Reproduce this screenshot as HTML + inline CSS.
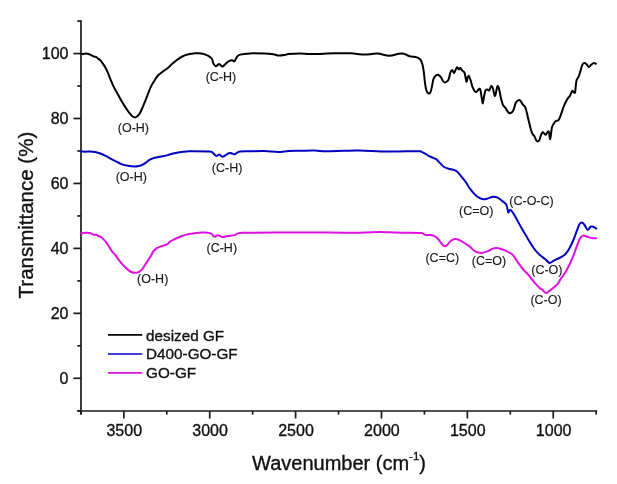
<!DOCTYPE html>
<html><head><meta charset="utf-8"><style>
html,body{margin:0;padding:0;background:#fff;}
body{width:617px;height:484px;overflow:hidden;position:relative;}
svg{position:absolute;left:0;top:0;will-change:transform;filter:blur(0.3px);}
text{-webkit-font-smoothing:antialiased;}
text{font-family:"Liberation Sans",sans-serif;}
</style></head><body>
<svg width="617" height="484" viewBox="0 0 617 484">
<rect width="617" height="484" fill="#fff"/>
<g stroke="#1a1a1a" stroke-width="1.7" fill="none" stroke-linecap="butt">
<line x1="81" y1="20.2" x2="81" y2="414.6"/>
<line x1="77.3" y1="411" x2="597.2" y2="411"/>
<line x1="77.3" y1="410.77" x2="81" y2="410.77"/><line x1="73.4" y1="378.30" x2="81" y2="378.30"/><line x1="77.3" y1="345.83" x2="81" y2="345.83"/><line x1="73.4" y1="313.35" x2="81" y2="313.35"/><line x1="77.3" y1="280.88" x2="81" y2="280.88"/><line x1="73.4" y1="248.40" x2="81" y2="248.40"/><line x1="77.3" y1="215.93" x2="81" y2="215.93"/><line x1="73.4" y1="183.46" x2="81" y2="183.46"/><line x1="77.3" y1="150.98" x2="81" y2="150.98"/><line x1="73.4" y1="118.51" x2="81" y2="118.51"/><line x1="77.3" y1="86.03" x2="81" y2="86.03"/><line x1="73.4" y1="53.56" x2="81" y2="53.56"/><line x1="77.3" y1="21.09" x2="81" y2="21.09"/><line x1="596.18" y1="411" x2="596.18" y2="414.6"/><line x1="553.24" y1="411" x2="553.24" y2="418.5"/><line x1="510.30" y1="411" x2="510.30" y2="414.6"/><line x1="467.36" y1="411" x2="467.36" y2="418.5"/><line x1="424.42" y1="411" x2="424.42" y2="414.6"/><line x1="381.48" y1="411" x2="381.48" y2="418.5"/><line x1="338.54" y1="411" x2="338.54" y2="414.6"/><line x1="295.60" y1="411" x2="295.60" y2="418.5"/><line x1="252.66" y1="411" x2="252.66" y2="414.6"/><line x1="209.72" y1="411" x2="209.72" y2="418.5"/><line x1="166.78" y1="411" x2="166.78" y2="414.6"/><line x1="123.84" y1="411" x2="123.84" y2="418.5"/><line x1="80.90" y1="411" x2="80.90" y2="414.6"/>
</g>
<g font-size="16" fill="#111" stroke="#111" stroke-width="0.35">
<text x="68.5" y="59.16" text-anchor="end">100</text><text x="68.5" y="124.11" text-anchor="end">80</text><text x="68.5" y="189.06" text-anchor="end">60</text><text x="68.5" y="254.00" text-anchor="end">40</text><text x="68.5" y="318.95" text-anchor="end">20</text><text x="68.5" y="383.90" text-anchor="end">0</text>
<text x="124.24" y="436.3" text-anchor="middle">3500</text><text x="210.12" y="436.3" text-anchor="middle">3000</text><text x="296.00" y="436.3" text-anchor="middle">2500</text><text x="381.88" y="436.3" text-anchor="middle">2000</text><text x="467.76" y="436.3" text-anchor="middle">1500</text><text x="553.64" y="436.3" text-anchor="middle">1000</text>
</g>
<g fill="none" stroke-width="2" stroke-linejoin="round" stroke-linecap="round">
<path stroke="#000" d="M81.20,53.70 C81.55,53.77 82.53,54.12 83.30,54.10 C84.07,54.08 84.82,53.58 85.80,53.60 C86.78,53.62 88.23,53.92 89.20,54.20 C90.17,54.48 90.80,54.92 91.60,55.30 C92.40,55.68 93.27,56.23 94.00,56.50 C94.73,56.77 95.27,56.50 96.00,56.90 C96.73,57.30 97.67,58.32 98.40,58.90 C99.13,59.48 99.67,59.62 100.40,60.40 C101.13,61.18 102.00,62.47 102.80,63.60 C103.60,64.73 104.42,65.82 105.20,67.20 C105.98,68.58 106.60,69.82 107.50,71.90 C108.40,73.98 109.53,77.17 110.60,79.70 C111.67,82.23 112.67,84.62 113.90,87.10 C115.13,89.58 116.63,92.12 118.00,94.60 C119.37,97.08 120.72,99.67 122.10,102.00 C123.48,104.33 124.95,106.60 126.30,108.60 C127.65,110.60 129.17,112.70 130.20,114.00 C131.23,115.30 131.62,115.83 132.50,116.40 C133.38,116.97 134.40,117.73 135.50,117.40 C136.60,117.07 137.95,116.00 139.10,114.40 C140.25,112.80 141.17,110.55 142.40,107.80 C143.63,105.05 145.12,101.35 146.50,97.90 C147.88,94.45 149.25,90.17 150.70,87.10 C152.15,84.03 153.92,81.52 155.20,79.50 C156.48,77.48 157.10,76.35 158.40,75.00 C159.70,73.65 161.27,72.70 163.00,71.40 C164.73,70.10 167.30,68.45 168.80,67.20 C170.30,65.95 170.60,65.15 172.00,63.90 C173.40,62.65 175.47,60.93 177.20,59.70 C178.93,58.47 180.88,57.30 182.40,56.50 C183.92,55.70 185.03,55.32 186.30,54.90 C187.57,54.48 188.78,54.25 190.00,54.00 C191.22,53.75 191.67,53.50 193.60,53.40 C195.53,53.30 199.13,52.98 201.60,53.40 C204.07,53.82 206.70,55.00 208.40,55.90 C210.10,56.80 210.95,57.53 211.80,58.80 C212.65,60.07 212.83,62.25 213.50,63.50 C214.17,64.75 214.85,66.22 215.80,66.30 C216.75,66.38 218.12,63.95 219.20,64.00 C220.28,64.05 221.25,66.62 222.30,66.60 C223.35,66.58 224.47,64.77 225.50,63.90 C226.53,63.03 227.38,62.00 228.50,61.40 C229.62,60.80 231.20,60.33 232.20,60.30 C233.20,60.27 233.73,61.73 234.50,61.20 C235.27,60.67 235.85,58.20 236.80,57.10 C237.75,56.00 238.00,55.22 240.20,54.60 C242.40,53.98 245.98,53.57 250.00,53.40 C254.02,53.23 260.45,53.45 264.30,53.60 C268.15,53.75 270.67,53.97 273.10,54.30 C275.53,54.63 276.97,55.48 278.90,55.60 C280.83,55.72 283.08,55.27 284.70,55.00 C286.32,54.73 286.05,54.25 288.60,54.00 C291.15,53.75 296.15,53.50 300.00,53.50 C303.85,53.50 306.03,54.03 311.70,54.00 C317.37,53.97 327.52,53.42 334.00,53.30 C340.48,53.18 346.27,53.13 350.60,53.30 C354.93,53.47 357.47,54.08 360.00,54.30 C362.53,54.52 362.88,54.72 365.80,54.60 C368.72,54.48 373.60,53.40 377.50,53.60 C381.40,53.80 385.63,55.77 389.20,55.80 C392.77,55.83 396.47,54.13 398.90,53.80 C401.33,53.47 402.02,53.40 403.80,53.80 C405.58,54.20 407.67,55.68 409.60,56.20 C411.53,56.72 413.98,56.62 415.40,56.90 C416.82,57.18 417.23,57.40 418.10,57.90 C418.97,58.40 419.88,58.83 420.60,59.90 C421.32,60.97 421.88,62.43 422.40,64.30 C422.92,66.17 423.28,68.12 423.70,71.10 C424.12,74.08 424.48,79.10 424.90,82.20 C425.32,85.30 425.62,87.83 426.20,89.70 C426.78,91.57 427.68,93.00 428.40,93.40 C429.12,93.80 429.88,93.35 430.50,92.10 C431.12,90.85 431.58,88.17 432.10,85.90 C432.62,83.63 432.93,80.25 433.60,78.50 C434.27,76.75 435.38,76.02 436.10,75.40 C436.82,74.78 437.08,74.48 437.90,74.80 C438.72,75.12 440.17,76.27 441.00,77.30 C441.83,78.33 442.28,80.13 442.90,81.00 C443.52,81.87 444.08,82.40 444.70,82.50 C445.32,82.60 445.97,82.07 446.60,81.60 C447.23,81.13 447.88,81.15 448.50,79.70 C449.12,78.25 449.68,74.50 450.30,72.90 C450.92,71.30 451.58,70.10 452.20,70.10 C452.82,70.10 453.48,72.85 454.00,72.90 C454.52,72.95 454.78,71.33 455.30,70.40 C455.82,69.47 456.48,67.43 457.10,67.30 C457.72,67.17 458.48,69.53 459.00,69.60 C459.52,69.67 459.68,67.57 460.20,67.70 C460.72,67.83 461.37,69.53 462.10,70.40 C462.83,71.27 463.88,71.03 464.60,72.90 C465.32,74.77 465.88,80.83 466.40,81.60 C466.92,82.37 467.28,78.43 467.70,77.50 C468.12,76.57 468.38,75.42 468.90,76.00 C469.42,76.58 470.18,79.13 470.80,81.00 C471.42,82.87 471.90,85.43 472.60,87.20 C473.30,88.97 474.30,90.87 475.00,91.60 C475.70,92.33 476.08,92.08 476.80,91.60 C477.52,91.12 478.68,88.90 479.30,88.70 C479.92,88.50 480.08,88.78 480.50,90.40 C480.92,92.02 481.42,96.23 481.80,98.40 C482.18,100.57 482.45,103.60 482.80,103.40 C483.15,103.20 483.45,99.37 483.90,97.20 C484.35,95.03 484.93,91.68 485.50,90.40 C486.07,89.12 486.68,89.50 487.30,89.50 C487.92,89.50 488.53,90.98 489.20,90.40 C489.87,89.82 490.68,86.32 491.30,86.00 C491.92,85.68 492.32,86.85 492.90,88.50 C493.48,90.15 494.23,95.48 494.80,95.90 C495.37,96.32 495.85,92.65 496.30,91.00 C496.75,89.35 497.03,86.32 497.50,86.00 C497.97,85.68 498.52,87.03 499.10,89.10 C499.68,91.17 500.38,95.82 501.00,98.40 C501.62,100.98 502.08,103.05 502.80,104.60 C503.52,106.15 504.57,106.67 505.30,107.70 C506.03,108.73 506.58,109.92 507.20,110.80 C507.82,111.68 508.28,112.68 509.00,113.00 C509.72,113.32 510.77,113.17 511.50,112.70 C512.23,112.23 512.68,111.85 513.40,110.20 C514.12,108.55 514.98,104.45 515.80,102.80 C516.62,101.15 517.57,100.67 518.30,100.30 C519.03,99.93 519.47,99.92 520.20,100.60 C520.93,101.28 521.88,103.32 522.70,104.40 C523.52,105.48 524.48,106.00 525.10,107.10 C525.72,108.20 525.93,109.28 526.40,111.00 C526.87,112.72 527.38,115.23 527.90,117.40 C528.42,119.57 528.95,121.78 529.50,124.00 C530.05,126.22 530.63,128.97 531.20,130.70 C531.77,132.43 532.35,133.45 532.90,134.40 C533.45,135.35 533.95,135.43 534.50,136.40 C535.05,137.37 535.65,139.37 536.20,140.20 C536.75,141.03 537.25,141.47 537.80,141.40 C538.35,141.33 538.95,140.90 539.50,139.80 C540.05,138.70 540.55,136.05 541.10,134.80 C541.65,133.55 542.25,132.50 542.80,132.30 C543.35,132.10 543.92,133.18 544.40,133.60 C544.88,134.02 545.22,135.02 545.70,134.80 C546.18,134.58 546.82,132.85 547.30,132.30 C547.78,131.75 548.25,131.08 548.60,131.50 C548.95,131.92 549.13,133.50 549.40,134.80 C549.67,136.10 549.93,139.43 550.20,139.30 C550.47,139.17 550.72,135.98 551.00,134.00 C551.28,132.02 551.48,129.07 551.90,127.40 C552.32,125.73 552.88,125.03 553.50,124.00 C554.12,122.97 554.92,121.75 555.60,121.20 C556.28,120.65 557.05,120.98 557.60,120.70 C558.15,120.42 558.42,120.32 558.90,119.50 C559.38,118.68 559.60,118.18 560.50,115.80 C561.40,113.42 563.15,108.00 564.30,105.20 C565.45,102.40 566.47,100.55 567.40,99.00 C568.33,97.45 569.07,97.25 569.90,95.90 C570.73,94.55 571.57,91.42 572.40,90.90 C573.23,90.38 574.32,93.83 574.90,92.80 C575.48,91.77 575.60,86.87 575.90,84.70 C576.20,82.53 576.25,81.13 576.70,79.80 C577.15,78.47 577.98,78.15 578.60,76.70 C579.22,75.25 579.78,73.07 580.40,71.10 C581.02,69.13 581.67,66.23 582.30,64.90 C582.93,63.57 583.48,63.20 584.20,63.10 C584.92,63.00 585.85,63.65 586.60,64.30 C587.35,64.95 587.97,66.90 588.70,67.00 C589.43,67.10 590.20,65.55 591.00,64.90 C591.80,64.25 592.68,63.30 593.50,63.10 C594.32,62.90 595.50,63.60 595.90,63.70"/>
<path stroke="#0000c0" d="M81.20,151.50 C81.97,151.53 84.38,151.70 85.80,151.70 C87.22,151.70 88.17,151.45 89.70,151.50 C91.23,151.55 93.47,151.75 95.00,152.00 C96.53,152.25 97.28,152.45 98.90,153.00 C100.52,153.55 102.75,154.35 104.70,155.30 C106.65,156.25 108.65,157.65 110.60,158.70 C112.55,159.75 114.47,160.65 116.40,161.60 C118.33,162.55 120.25,163.70 122.20,164.40 C124.15,165.10 126.15,165.45 128.10,165.80 C130.05,166.15 132.12,166.47 133.90,166.50 C135.68,166.53 137.33,166.32 138.80,166.00 C140.27,165.68 141.58,165.12 142.70,164.60 C143.82,164.08 144.30,163.72 145.50,162.90 C146.70,162.08 148.37,160.57 149.90,159.70 C151.43,158.83 152.82,158.23 154.70,157.70 C156.58,157.17 159.03,156.93 161.20,156.50 C163.37,156.07 165.67,155.60 167.70,155.10 C169.73,154.60 171.38,153.98 173.40,153.50 C175.42,153.02 177.52,152.55 179.80,152.20 C182.08,151.85 185.17,151.55 187.10,151.40 C189.03,151.25 187.67,151.27 191.40,151.30 C195.13,151.33 205.85,151.27 209.50,151.60 C213.15,151.93 212.17,152.55 213.30,153.30 C214.43,154.05 215.32,155.90 216.30,156.10 C217.28,156.30 218.15,154.40 219.20,154.50 C220.25,154.60 221.00,156.90 222.60,156.70 C224.20,156.50 227.20,153.83 228.80,153.30 C230.40,152.77 231.17,153.33 232.20,153.50 C233.23,153.67 233.87,154.60 235.00,154.30 C236.13,154.00 236.50,152.20 239.00,151.70 C241.50,151.20 245.78,151.42 250.00,151.30 C254.22,151.18 259.65,150.88 264.30,151.00 C268.95,151.12 273.85,152.00 277.90,152.00 C281.95,152.00 284.92,151.20 288.60,151.00 C292.28,150.80 295.67,150.87 300.00,150.80 C304.33,150.73 310.22,150.52 314.60,150.60 C318.98,150.68 321.43,151.27 326.30,151.30 C331.17,151.33 338.18,150.92 343.80,150.80 C349.42,150.68 352.60,150.47 360.00,150.60 C367.40,150.73 378.62,151.50 388.20,151.60 C397.78,151.70 411.95,151.15 417.50,151.20 C423.05,151.25 420.05,151.37 421.50,151.90 C422.95,152.43 424.60,153.55 426.20,154.40 C427.80,155.25 429.45,156.20 431.10,157.00 C432.75,157.80 434.65,158.22 436.10,159.20 C437.55,160.18 438.47,161.60 439.80,162.90 C441.13,164.20 442.65,166.03 444.10,167.00 C445.55,167.97 446.95,168.25 448.50,168.70 C450.05,169.15 451.97,169.22 453.40,169.70 C454.83,170.18 455.87,170.57 457.10,171.60 C458.33,172.63 459.35,174.15 460.80,175.90 C462.25,177.65 464.25,179.93 465.80,182.10 C467.35,184.27 468.57,186.82 470.10,188.90 C471.63,190.98 473.53,193.13 475.00,194.60 C476.47,196.07 477.50,196.92 478.90,197.70 C480.30,198.48 481.88,199.18 483.40,199.30 C484.92,199.42 486.38,198.83 488.00,198.40 C489.62,197.97 491.48,196.82 493.10,196.70 C494.72,196.58 496.18,196.98 497.70,197.70 C499.22,198.42 500.80,199.92 502.20,201.00 C503.60,202.08 505.23,202.92 506.10,204.20 C506.97,205.48 507.02,207.30 507.40,208.70 C507.78,210.10 507.92,212.43 508.40,212.60 C508.88,212.77 509.48,209.58 510.30,209.70 C511.12,209.82 512.25,211.75 513.30,213.30 C514.35,214.85 515.23,216.53 516.60,219.00 C517.97,221.47 519.97,225.40 521.50,228.10 C523.03,230.80 524.55,233.10 525.80,235.20 C527.05,237.30 527.78,238.70 529.00,240.70 C530.22,242.70 531.73,245.25 533.10,247.20 C534.47,249.15 535.85,250.92 537.20,252.40 C538.55,253.88 539.85,254.95 541.20,256.10 C542.55,257.25 543.92,258.17 545.30,259.30 C546.68,260.43 548.15,262.63 549.50,262.90 C550.85,263.17 552.08,261.57 553.40,260.90 C554.72,260.23 556.05,259.57 557.40,258.90 C558.75,258.23 560.15,257.72 561.50,256.90 C562.85,256.08 564.22,255.35 565.50,254.00 C566.78,252.65 567.85,251.22 569.20,248.80 C570.55,246.38 572.30,242.57 573.60,239.50 C574.90,236.43 576.02,232.93 577.00,230.40 C577.98,227.87 578.67,225.63 579.50,224.30 C580.33,222.97 581.17,222.30 582.00,222.40 C582.83,222.50 583.57,223.67 584.50,224.90 C585.43,226.13 586.57,229.50 587.60,229.80 C588.63,230.10 589.77,227.22 590.70,226.70 C591.63,226.18 592.27,226.38 593.20,226.70 C594.13,227.02 595.78,228.28 596.30,228.60"/>
<path stroke="#e010e0" d="M81.20,233.30 C81.88,233.20 83.88,232.77 85.30,232.70 C86.72,232.63 88.57,232.72 89.70,232.90 C90.83,233.08 91.30,233.45 92.10,233.80 C92.90,234.15 93.85,234.87 94.50,235.00 C95.15,235.13 95.35,234.43 96.00,234.60 C96.65,234.77 97.67,235.67 98.40,236.00 C99.13,236.33 99.58,236.08 100.40,236.60 C101.22,237.12 102.42,238.25 103.30,239.10 C104.18,239.95 104.88,240.65 105.70,241.70 C106.52,242.75 107.12,243.75 108.20,245.40 C109.28,247.05 111.07,250.07 112.20,251.60 C113.33,253.13 114.00,253.35 115.00,254.60 C116.00,255.85 117.12,257.65 118.20,259.10 C119.28,260.55 120.42,262.02 121.50,263.30 C122.58,264.58 123.62,265.72 124.70,266.80 C125.78,267.88 126.92,268.93 128.00,269.80 C129.08,270.67 130.02,271.50 131.20,272.00 C132.38,272.50 133.80,272.83 135.10,272.80 C136.40,272.77 137.82,272.42 139.00,271.80 C140.18,271.18 141.23,270.20 142.20,269.10 C143.17,268.00 143.82,266.68 144.80,265.20 C145.78,263.72 147.10,261.70 148.10,260.20 C149.10,258.70 149.95,257.62 150.80,256.20 C151.65,254.78 152.25,253.00 153.20,251.70 C154.15,250.40 155.30,249.25 156.50,248.40 C157.70,247.55 159.10,247.12 160.40,246.60 C161.70,246.08 163.12,245.73 164.30,245.30 C165.48,244.87 166.43,244.68 167.50,244.00 C168.57,243.32 169.30,242.12 170.70,241.20 C172.10,240.28 174.17,239.33 175.90,238.50 C177.63,237.67 179.37,236.85 181.10,236.20 C182.83,235.55 184.58,235.00 186.30,234.60 C188.02,234.20 188.67,234.13 191.40,233.80 C194.13,233.47 199.68,232.73 202.70,232.60 C205.72,232.47 207.92,232.68 209.50,233.00 C211.08,233.32 211.35,233.87 212.20,234.50 C213.05,235.13 213.63,236.67 214.60,236.80 C215.57,236.93 216.67,235.25 218.00,235.30 C219.33,235.35 220.98,236.98 222.60,237.10 C224.22,237.22 225.72,236.33 227.70,236.00 C229.68,235.67 232.80,235.53 234.50,235.10 C236.20,234.67 236.38,233.78 237.90,233.40 C239.42,233.02 241.58,232.92 243.60,232.80 C245.62,232.68 242.27,232.75 250.00,232.70 C257.73,232.65 276.67,232.53 290.00,232.50 C303.33,232.47 320.20,232.45 330.00,232.50 C339.80,232.55 342.97,232.80 348.80,232.80 C354.63,232.80 359.85,232.65 365.00,232.50 C370.15,232.35 374.53,231.90 379.70,231.90 C384.87,231.90 391.78,232.37 396.00,232.50 C400.22,232.63 400.80,232.62 405.00,232.70 C409.20,232.78 418.07,232.77 421.20,233.00 C424.33,233.23 423.03,233.77 423.80,234.10 C424.57,234.43 424.60,234.83 425.80,235.00 C427.00,235.17 429.48,234.87 431.00,235.10 C432.52,235.33 433.72,235.75 434.90,236.40 C436.08,237.05 437.02,237.82 438.10,239.00 C439.18,240.18 440.32,242.28 441.40,243.50 C442.48,244.72 443.58,246.10 444.60,246.30 C445.62,246.50 446.45,245.63 447.50,244.70 C448.55,243.77 449.58,241.63 450.90,240.70 C452.22,239.77 453.90,239.15 455.40,239.10 C456.90,239.05 458.20,239.62 459.90,240.40 C461.60,241.18 463.92,242.73 465.60,243.80 C467.28,244.87 468.43,245.53 470.00,246.80 C471.57,248.07 473.13,250.37 475.00,251.40 C476.87,252.43 479.15,253.00 481.20,253.00 C483.25,253.00 485.25,252.17 487.30,251.40 C489.35,250.63 491.43,248.90 493.50,248.40 C495.57,247.90 497.63,247.98 499.70,248.40 C501.77,248.82 503.83,249.92 505.90,250.90 C507.97,251.88 510.23,252.60 512.10,254.30 C513.97,256.00 515.23,258.53 517.10,261.10 C518.97,263.67 521.45,267.43 523.30,269.70 C525.15,271.97 526.33,272.53 528.20,274.70 C530.07,276.87 532.50,280.42 534.50,282.70 C536.50,284.98 538.87,287.23 540.20,288.40 C541.53,289.57 541.57,288.92 542.50,289.70 C543.43,290.48 544.48,293.03 545.80,293.10 C547.12,293.17 548.50,291.55 550.40,290.10 C552.30,288.65 555.53,286.18 557.20,284.40 C558.87,282.62 558.97,281.57 560.40,279.40 C561.83,277.23 564.23,273.97 565.80,271.40 C567.37,268.83 568.47,266.80 569.80,264.00 C571.13,261.20 572.57,257.73 573.80,254.60 C575.03,251.47 576.18,247.87 577.20,245.20 C578.22,242.53 578.90,240.22 579.90,238.60 C580.90,236.98 581.97,235.80 583.20,235.50 C584.43,235.20 585.95,236.40 587.30,236.80 C588.65,237.20 589.82,237.67 591.30,237.90 C592.78,238.13 595.38,238.15 596.20,238.20"/>
</g>
<g font-size="12.5" fill="#1a1a1a" stroke="#1a1a1a" stroke-width="0.15">
<text x="133.4" y="131.6" text-anchor="middle">(O-H)</text>
<text x="220.9" y="80.8" text-anchor="middle">(C-H)</text>
<text x="131.3" y="181.2" text-anchor="middle">(O-H)</text>
<text x="227.1" y="172.4" text-anchor="middle">(C-H)</text>
<text x="476.3" y="215.4" text-anchor="middle">(C=O)</text>
<text x="531.5" y="204.7" text-anchor="middle">(C-O-C)</text>
<text x="546.9" y="273.5" text-anchor="middle">(C-O)</text>
<text x="152.7" y="283" text-anchor="middle">(O-H)</text>
<text x="221.8" y="251.6" text-anchor="middle">(C-H)</text>
<text x="442.3" y="262.2" text-anchor="middle">(C=C)</text>
<text x="489" y="265.4" text-anchor="middle">(C=O)</text>
<text x="546" y="304.2" text-anchor="middle">(C-O)</text>
</g>
<g stroke-width="1.7">
<line x1="108" y1="334.9" x2="142.2" y2="334.9" stroke="#000"/>
<line x1="108" y1="354" x2="142.2" y2="354" stroke="#0000c0"/>
<line x1="108" y1="372.9" x2="142.2" y2="372.9" stroke="#e010e0"/>
</g>
<g font-size="15.25" fill="#111" stroke="#111" stroke-width="0.35">
<text x="146.1" y="340.6">desized GF</text>
<text x="146.1" y="359.2">D400-GO-GF</text>
<text x="146.1" y="377.8">GO-GF</text>
</g>
<g font-size="20" fill="#111" stroke="#111" stroke-width="0.35">
<text transform="translate(32.8,215.1) rotate(-90)" text-anchor="middle" font-size="20.5">Transmittance (%)</text>
<text x="252" y="470">Wavenumber (cm<tspan font-size="11.5" dy="-10">-1</tspan><tspan dy="10">)</tspan></text>
</g>
</svg>
</body></html>
